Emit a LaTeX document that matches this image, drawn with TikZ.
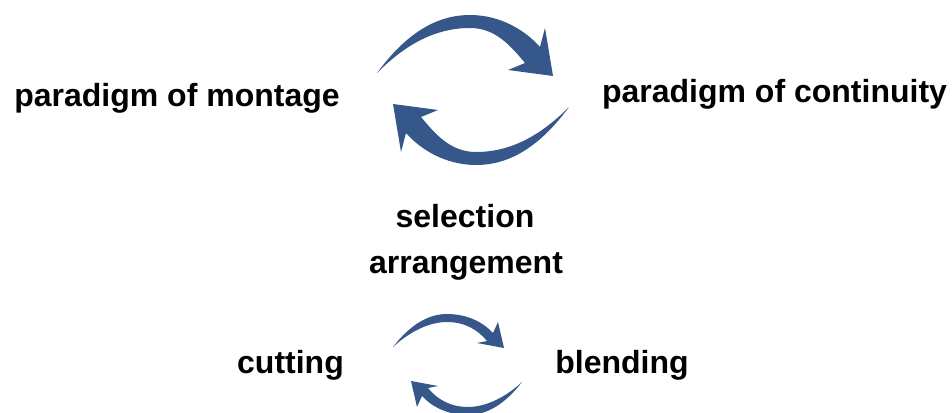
\documentclass[tikz,border=0pt]{standalone}
\usepackage{fontspec}
\setmainfont{Liberation Sans}
\definecolor{arrowblue}{RGB}{53,87,138}
\tikzset{
  lbl/.style={font=\fontsize{32}{36}\selectfont\bfseries, inner sep=0pt, anchor=base, text=black},
  arrowfill/.style={fill=arrowblue, draw=none},
}
\begin{document}
\begin{tikzpicture}[x=1pt,y=-1pt]
\useasboundingbox (0,0) rectangle (952,412);
\clip (0,0) rectangle (952,412);
% labels
\node[lbl] (montage) at (177,106) {paradigm of montage};
\node[lbl] (continuity) at (774.5,102) {paradigm of continuity};
\node[lbl] (selection) at (465,227) {selection};
\node[lbl] (arrangement) at (466,273) {arrangement};
\node[lbl] (cutting) at (290.5,373) {cutting};
\node[lbl] (blending) at (622,373) {blending};
% big arrows
\def\bigarrow{(377,73) .. controls (405,35) and (435,15) .. (470,15)
  .. controls (500,15) and (525,30) .. (540,47) -- (545,28) -- (553,76) -- (508,70) -- (525,63)
  .. controls (510,45) and (495,28) .. (470,28)
  .. controls (430,28) and (400,50) .. (377,73) -- cycle}
\fill[arrowfill] \bigarrow;
\begin{scope}[rotate around={180:(473,90)}]
\fill[arrowfill] \bigarrow;
\end{scope}
% small arrows
\def\smallarrow{(393,347) .. controls (410,325) and (428,314) .. (447,314)
  .. controls (468,314) and (484,323) .. (493,333) -- (498,322) -- (504,348) -- (477,343) -- (487,341)
  .. controls (478,330) and (465,322) .. (447,322)
  .. controls (428,322) and (408,333) .. (393,347) -- cycle}
\fill[arrowfill] \smallarrow;
\begin{scope}[rotate around={180:(457.5,364.5)}]
\fill[arrowfill] \smallarrow;
\end{scope}
\end{tikzpicture}
\end{document}
